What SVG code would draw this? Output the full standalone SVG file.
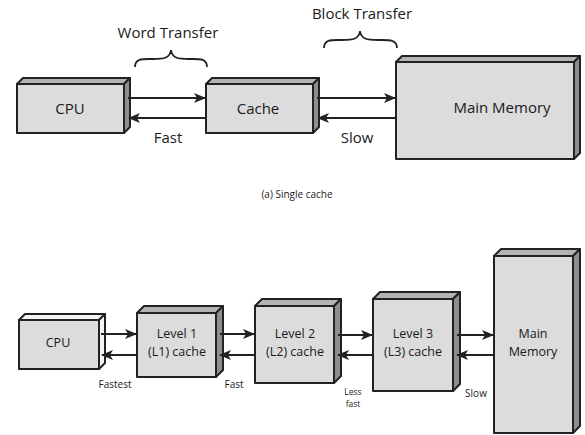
<svg xmlns="http://www.w3.org/2000/svg" width="585" height="435" viewBox="0 0 585 435">
<defs>
<marker id="ah" viewBox="0 0 12 10" refX="11" refY="5" markerWidth="12" markerHeight="10" markerUnits="userSpaceOnUse" orient="auto">
<path d="M0,0 L12,5 L0,10 L3,5 Z" fill="#222"/>
</marker>
</defs>
<style>
.front{fill:#dcdcdc;stroke:#222;stroke-width:2;stroke-linejoin:round}
.top{fill:#b4b4b4;stroke:#222;stroke-width:2;stroke-linejoin:round}
.side{fill:#8e8e8e;stroke:#222;stroke-width:2;stroke-linejoin:round}
.wtop{fill:#f4f4f4;stroke:#222;stroke-width:2;stroke-linejoin:round}
.t{font-family:"Open Sans","Liberation Sans",sans-serif;fill:#1a1a1a;text-anchor:middle}
.big{font-size:15px}
.mid{font-size:12.5px}
.sm{font-size:10px}
.xs{font-size:8.5px}
.conn line{stroke:#222;stroke-width:2;marker-end:url(#ah)}
.brace{fill:none;stroke:#222;stroke-width:1.8}
</style>
<rect width="585" height="435" fill="#fff"/>

<!-- Top (a) single cache -->
<g id="cpu1">
<polygon class="top" points="17,84 23,78 130,78 124,84"/>
<polygon class="side" points="124,84 130,78 130,127 124,133"/>
<rect class="front" x="17" y="84" width="107" height="49"/>
<text class="t big" x="70" y="114">CPU</text>
</g>
<g id="cache1">
<polygon class="top" points="206,84 212,78 319,78 313,84"/>
<polygon class="side" points="313,84 319,78 319,127 313,133"/>
<rect class="front" x="206" y="84" width="107" height="49"/>
<text class="t big" x="258" y="114">Cache</text>
</g>
<g id="mm1">
<polygon class="top" points="396,62 402,56 580,56 574,62"/>
<polygon class="side" points="574,62 580,56 580,153 574,159"/>
<rect class="front" x="396" y="62" width="178" height="97"/>
<text class="t big" x="502" y="113">Main Memory</text>
</g>

<g id="labels1">
<text class="t big" x="168" y="38">Word Transfer</text>
<path class="brace" d="M135,67 C135,58 143,59 153,59 C164,59 170,58 171,50 C172,58 178,59 189,59 C199,59 207,58 207,67"/>
<text class="t big" x="168" y="143">Fast</text>
<text class="t big" x="362" y="19">Block Transfer</text>
<path class="brace" d="M324,48 C324,39 332,40 342,40 C353,40 359,39 360,31 C361,39 367,40 378,40 C388,40 397,39 397,48"/>
<text class="t big" x="357" y="143">Slow</text>
<text class="t sm" x="297" y="198">(a) Single cache</text>
</g>

<!-- Bottom multi-level -->
<g id="cpu2">
<polygon class="wtop" points="19,320 25,314 105,314 99,320"/>
<polygon class="wtop" points="99,320 105,314 105,363 99,369"/>
<rect class="front" x="19" y="320" width="80" height="49"/>
<text class="t mid" x="58" y="347">CPU</text>
</g>
<g id="l1">
<polygon class="top" points="137,313 144,306 223,306 216,313"/>
<polygon class="side" points="216,313 223,306 223,370 216,377"/>
<rect class="front" x="137" y="313" width="79" height="64"/>
<text class="t mid" x="177" y="338">Level 1</text>
<text class="t mid" x="177" y="356">(L1) cache</text>
</g>
<g id="l2">
<polygon class="top" points="255,306 262,299 341,299 334,306"/>
<polygon class="side" points="334,306 341,299 341,376 334,383"/>
<rect class="front" x="255" y="306" width="79" height="77"/>
<text class="t mid" x="295" y="338">Level 2</text>
<text class="t mid" x="295" y="356">(L2) cache</text>
</g>
<g id="l3">
<polygon class="top" points="373,299 380,292 460,292 453,299"/>
<polygon class="side" points="453,299 460,292 460,384 453,391"/>
<rect class="front" x="373" y="299" width="80" height="92"/>
<text class="t mid" x="413" y="338">Level 3</text>
<text class="t mid" x="413" y="356">(L3) cache</text>
</g>
<g id="mm2">
<polygon class="top" points="494,256 501,249 580,249 573,256"/>
<polygon class="side" points="573,256 580,249 580,426 573,433"/>
<rect class="front" x="494" y="256" width="79" height="177"/>
<text class="t mid" x="533" y="338">Main</text>
<text class="t mid" x="533" y="356">Memory</text>
</g>

<g id="labels2">
<text class="t sm" x="115" y="388">Fastest</text>
<text class="t sm" x="234" y="388">Fast</text>
<text class="t xs" x="353" y="395">Less</text>
<text class="t xs" x="353" y="407">fast</text>
<text class="t sm" x="476" y="397">Slow</text>
</g>

<g id="connectors" class="conn">
<line x1="128" y1="98" x2="205" y2="98"/>
<line x1="206" y1="118" x2="129" y2="118"/>
<line x1="317" y1="98" x2="395" y2="98"/>
<line x1="396" y1="118" x2="318" y2="118"/>
<line x1="101" y1="334" x2="136" y2="334"/>
<line x1="137" y1="355" x2="102" y2="355"/>
<line x1="220" y1="334" x2="254" y2="334"/>
<line x1="255" y1="355" x2="220" y2="355"/>
<line x1="338" y1="335" x2="372" y2="335"/>
<line x1="373" y1="355" x2="338" y2="355"/>
<line x1="457" y1="335" x2="493" y2="335"/>
<line x1="494" y1="355" x2="457" y2="355"/>
</g>
</svg>
